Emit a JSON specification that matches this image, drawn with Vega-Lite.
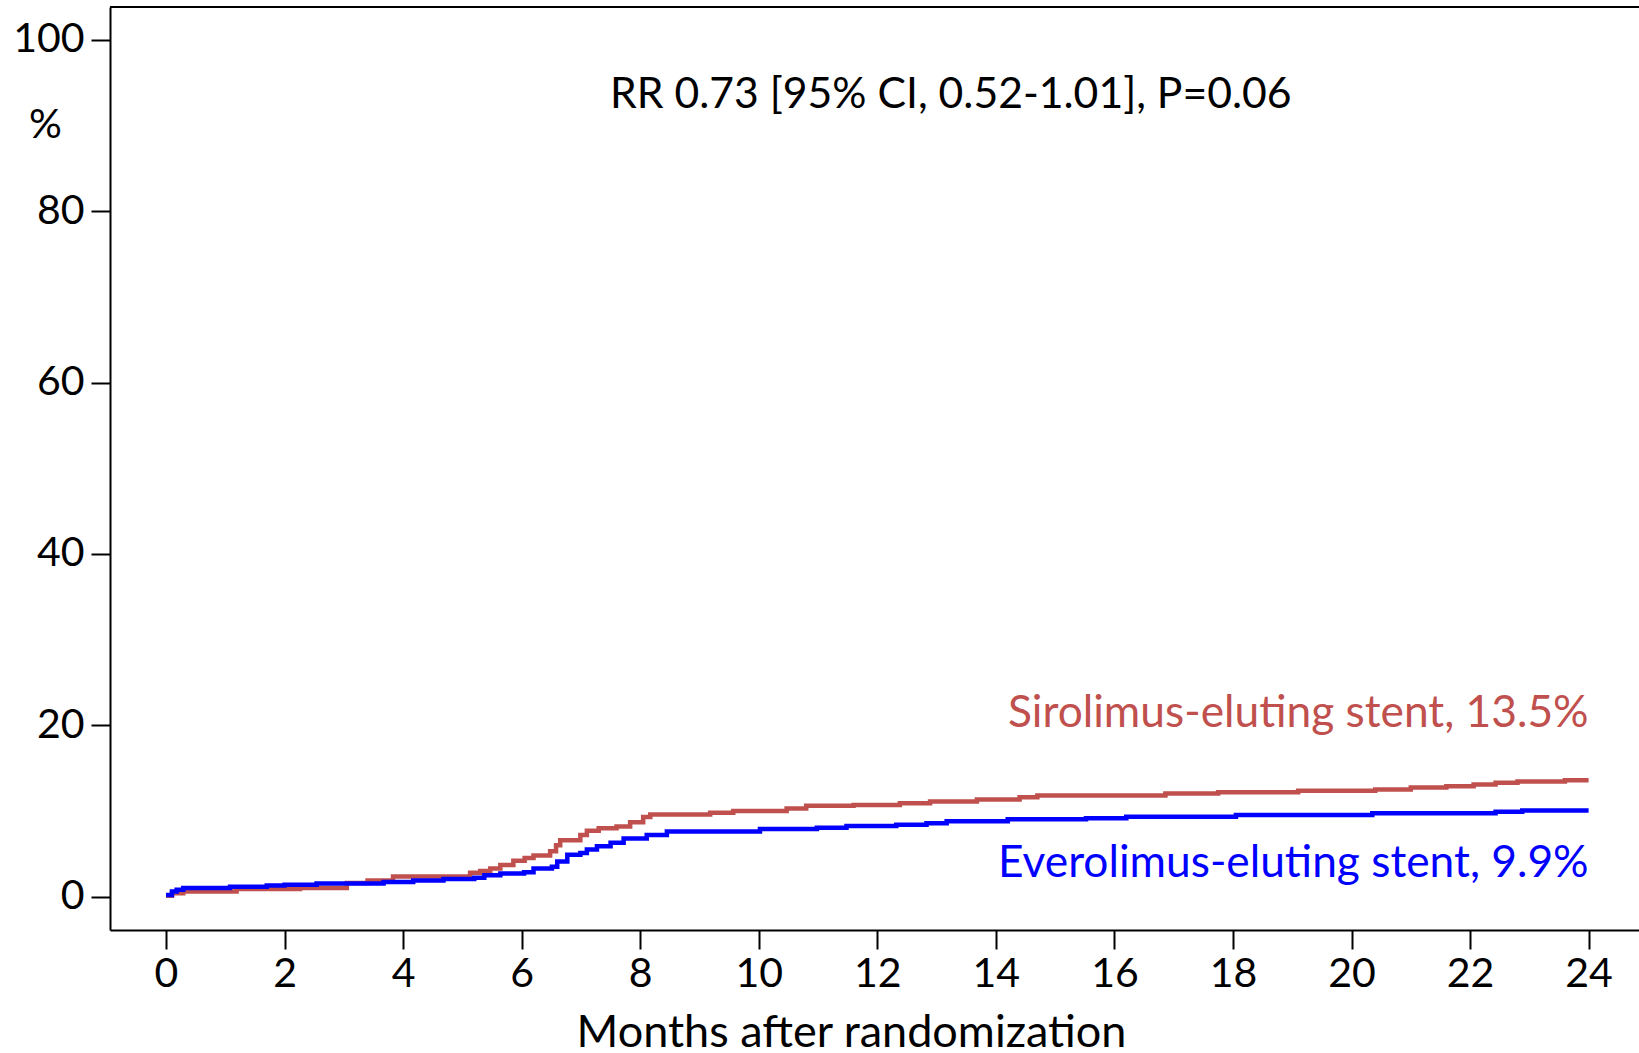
{
  "$schema": "https://vega.github.io/schema/vega-lite/v6.json",
  "width": 1529,
  "height": 923,
  "autosize": {"type": "none"},
  "padding": {"left": 110, "top": 7, "right": 0, "bottom": 123},
  "background": "white",
  "config": {
    "view": {"stroke": null},
    "font": "Lato",
    "axis": {"grid": false, "domainColor": "black", "domainWidth": 2, "tickColor": "black", "tickWidth": 2, "labelColor": "black", "titleColor": "black", "titleFontWeight": "normal", "labelFont": "Lato", "titleFont": "Lato"}
  },
  "datasets": {
    "curves": [
      {"group": "Sirolimus", "month": 0, "pct": 0.1},
      {"group": "Sirolimus", "month": 0.1, "pct": 0.4},
      {"group": "Sirolimus", "month": 0.29, "pct": 0.6},
      {"group": "Sirolimus", "month": 1.19, "pct": 0.9},
      {"group": "Sirolimus", "month": 2.26, "pct": 1.0},
      {"group": "Sirolimus", "month": 3.05, "pct": 1.6},
      {"group": "Sirolimus", "month": 3.4, "pct": 1.9},
      {"group": "Sirolimus", "month": 3.83, "pct": 2.35},
      {"group": "Sirolimus", "month": 5.13, "pct": 2.8},
      {"group": "Sirolimus", "month": 5.3, "pct": 3.0},
      {"group": "Sirolimus", "month": 5.47, "pct": 3.3},
      {"group": "Sirolimus", "month": 5.64, "pct": 3.7},
      {"group": "Sirolimus", "month": 5.86, "pct": 4.2},
      {"group": "Sirolimus", "month": 6.05, "pct": 4.5},
      {"group": "Sirolimus", "month": 6.2, "pct": 4.8},
      {"group": "Sirolimus", "month": 6.48, "pct": 5.3},
      {"group": "Sirolimus", "month": 6.58, "pct": 6.0},
      {"group": "Sirolimus", "month": 6.65, "pct": 6.6},
      {"group": "Sirolimus", "month": 6.99, "pct": 7.2},
      {"group": "Sirolimus", "month": 7.1, "pct": 7.7},
      {"group": "Sirolimus", "month": 7.3, "pct": 8.0},
      {"group": "Sirolimus", "month": 7.6, "pct": 8.2},
      {"group": "Sirolimus", "month": 7.83, "pct": 8.7},
      {"group": "Sirolimus", "month": 8.05, "pct": 9.3},
      {"group": "Sirolimus", "month": 8.17, "pct": 9.6},
      {"group": "Sirolimus", "month": 9.18, "pct": 9.8},
      {"group": "Sirolimus", "month": 9.57, "pct": 10.0},
      {"group": "Sirolimus", "month": 10.47, "pct": 10.3},
      {"group": "Sirolimus", "month": 10.8, "pct": 10.6},
      {"group": "Sirolimus", "month": 11.6, "pct": 10.7},
      {"group": "Sirolimus", "month": 12.38, "pct": 10.9},
      {"group": "Sirolimus", "month": 12.89, "pct": 11.1},
      {"group": "Sirolimus", "month": 13.68, "pct": 11.35},
      {"group": "Sirolimus", "month": 14.4, "pct": 11.6},
      {"group": "Sirolimus", "month": 14.7, "pct": 11.8},
      {"group": "Sirolimus", "month": 16.86, "pct": 12.05},
      {"group": "Sirolimus", "month": 17.75, "pct": 12.2},
      {"group": "Sirolimus", "month": 19.1, "pct": 12.35},
      {"group": "Sirolimus", "month": 20.4, "pct": 12.5},
      {"group": "Sirolimus", "month": 21.0, "pct": 12.75},
      {"group": "Sirolimus", "month": 21.6, "pct": 12.9},
      {"group": "Sirolimus", "month": 22.06, "pct": 13.1},
      {"group": "Sirolimus", "month": 22.43, "pct": 13.3},
      {"group": "Sirolimus", "month": 22.8, "pct": 13.45},
      {"group": "Sirolimus", "month": 23.6, "pct": 13.6},
      {"group": "Sirolimus", "month": 24, "pct": 13.6},
      {"group": "Everolimus", "month": 0, "pct": 0.2},
      {"group": "Everolimus", "month": 0.1, "pct": 0.6},
      {"group": "Everolimus", "month": 0.18, "pct": 0.8},
      {"group": "Everolimus", "month": 0.29, "pct": 1.0},
      {"group": "Everolimus", "month": 1.08, "pct": 1.17},
      {"group": "Everolimus", "month": 1.7, "pct": 1.3},
      {"group": "Everolimus", "month": 2.0, "pct": 1.4},
      {"group": "Everolimus", "month": 2.54, "pct": 1.55},
      {"group": "Everolimus", "month": 3.67, "pct": 1.7},
      {"group": "Everolimus", "month": 4.17, "pct": 1.9},
      {"group": "Everolimus", "month": 4.68, "pct": 2.05},
      {"group": "Everolimus", "month": 5.2, "pct": 2.2},
      {"group": "Everolimus", "month": 5.37, "pct": 2.5},
      {"group": "Everolimus", "month": 5.64, "pct": 2.7},
      {"group": "Everolimus", "month": 6.04, "pct": 2.85},
      {"group": "Everolimus", "month": 6.2, "pct": 3.3},
      {"group": "Everolimus", "month": 6.51, "pct": 3.5},
      {"group": "Everolimus", "month": 6.6, "pct": 4.1},
      {"group": "Everolimus", "month": 6.77, "pct": 4.9},
      {"group": "Everolimus", "month": 6.99, "pct": 5.1},
      {"group": "Everolimus", "month": 7.1, "pct": 5.5},
      {"group": "Everolimus", "month": 7.27, "pct": 5.9},
      {"group": "Everolimus", "month": 7.5, "pct": 6.3},
      {"group": "Everolimus", "month": 7.72, "pct": 6.8},
      {"group": "Everolimus", "month": 8.11, "pct": 7.2},
      {"group": "Everolimus", "month": 8.45, "pct": 7.6},
      {"group": "Everolimus", "month": 10.02, "pct": 7.9},
      {"group": "Everolimus", "month": 10.98, "pct": 8.05},
      {"group": "Everolimus", "month": 11.48, "pct": 8.25},
      {"group": "Everolimus", "month": 12.32, "pct": 8.4},
      {"group": "Everolimus", "month": 12.83, "pct": 8.57},
      {"group": "Everolimus", "month": 13.17, "pct": 8.8},
      {"group": "Everolimus", "month": 14.2, "pct": 9.03},
      {"group": "Everolimus", "month": 15.52, "pct": 9.15},
      {"group": "Everolimus", "month": 16.2, "pct": 9.34},
      {"group": "Everolimus", "month": 18.05, "pct": 9.54},
      {"group": "Everolimus", "month": 20.35, "pct": 9.73},
      {"group": "Everolimus", "month": 22.43, "pct": 9.92},
      {"group": "Everolimus", "month": 22.88, "pct": 10.05},
      {"group": "Everolimus", "month": 24, "pct": 10.05}
    ],
    "labels": [
      {"label": "RR 0.73 [95% CI, 0.52-1.01], P=0.06", "kind": "stat", "month": 13.24, "pct": 93.6},
      {"label": "Sirolimus-eluting stent, 13.5%", "kind": "Sirolimus", "month": 24, "pct": 19.8},
      {"label": "Everolimus-eluting stent, 9.9%", "kind": "Everolimus", "month": 24, "pct": 2.3}
    ]
  },
  "data": {"name": "labels"},
  "layer": [
    {
      "data": {"values": [{"top": 103.85}]},
      "mark": {"type": "rule", "color": "black", "strokeWidth": 2},
      "encoding": {"y": {"field": "top", "type": "quantitative"}}
    },
    {
      "data": {"name": "curves"},
      "mark": {"type": "line", "interpolate": "step-after", "strokeWidth": 4.5, "clip": true},
      "encoding": {
        "x": {
          "field": "month", "type": "quantitative",
          "scale": {"domain": [-0.945, 24.85], "nice": false, "zero": false},
          "axis": {
            "values": [0, 2, 4, 6, 8, 10, 12, 14, 16, 18, 20, 22, 24],
            "format": "d",
            "title": "Months after randomization",
            "tickSize": 19, "labelPadding": 5, "labelFontSize": 41,
            "titleFontSize": 45, "titleX": 741, "titleY": 116,
            "titleAlign": "center", "titleBaseline": "alphabetic", "titleAnchor": null
          }
        },
        "y": {
          "field": "pct", "type": "quantitative",
          "scale": {"domain": [-3.89, 103.85], "nice": false, "zero": false},
          "axis": {
            "values": [0, 20, 40, 60, 80, 100],
            "format": "d",
            "title": "%", "titleAngle": 0, "titleX": -65, "titleY": 118,
            "titleAlign": "center", "titleBaseline": "middle", "titleFontSize": 41,
            "tickSize": 19, "labelPadding": 7, "labelFontSize": 41
          }
        },
        "color": {
          "field": "group", "type": "nominal",
          "scale": {"domain": ["Sirolimus", "Everolimus"], "range": ["#C0504D", "#0000FF"]},
          "legend": null
        },
        "detail": {"field": "group"}
      }
    },
    {
      "transform": [{"filter": "datum.kind == 'stat'"}],
      "mark": {"type": "text", "fontSize": 42.7, "align": "center", "baseline": "middle", "color": "black", "font": "Lato"},
      "encoding": {
        "x": {"field": "month", "type": "quantitative"},
        "y": {"field": "pct", "type": "quantitative"},
        "text": {"field": "label"}
      }
    },
    {
      "transform": [{"filter": "datum.kind != 'stat'"}],
      "mark": {"type": "text", "fontSize": 44.3, "align": "right", "baseline": "alphabetic", "font": "Lato"},
      "encoding": {
        "x": {"field": "month", "type": "quantitative"},
        "y": {"field": "pct", "type": "quantitative"},
        "text": {"field": "label"},
        "color": {"field": "kind", "type": "nominal"}
      }
    }
  ]
}
